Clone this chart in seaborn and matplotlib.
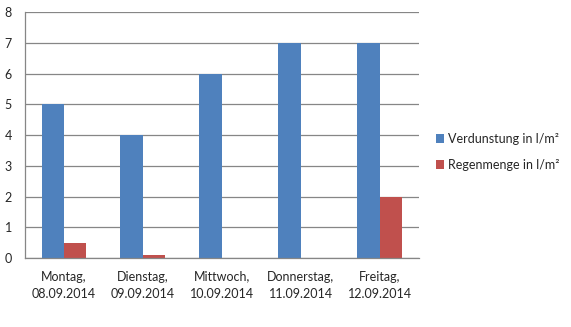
import matplotlib
matplotlib.use("Agg")
import matplotlib.pyplot as plt
import seaborn as sns
import pandas as pd
from matplotlib.patches import Patch

days = ["Montag,\n08.09.2014", "Dienstag,\n09.09.2014", "Mittwoch,\n10.09.2014",
        "Donnerstag,\n11.09.2014", "Freitag,\n12.09.2014"]
verdunstung = [5, 4, 6, 7, 7]
regenmenge = [0.5, 0.1, 0, 0, 2]
series = ["Verdunstung in l/m²", "Regenmenge in l/m²"]
colors = ["#4F81BD", "#C0504D"]

df = pd.DataFrame({
    "Tag": days * 2,
    "Wert": verdunstung + regenmenge,
    "Reihe": [series[0]] * len(days) + [series[1]] * len(days),
})

sns.set_style("white")
plt.rcParams["font.family"] = ["Lato", "DejaVu Sans"]

fig = plt.figure(figsize=(5.71, 3.27), dpi=100)
ax = fig.add_axes([0.043, 0.211, 0.691, 0.752])

sns.barplot(data=df, x="Tag", y="Wert", hue="Reihe", palette=colors,
            width=0.57, gap=0, saturation=1, errorbar=None, ax=ax,
            linewidth=0, legend=False)

ax.set_ylim(0, 8)
ax.set_xlim(-0.5, 4.5)
ax.set_yticks(range(0, 9))
ax.yaxis.grid(True, color="#868686", linewidth=0.9)
ax.set_axisbelow(True)
ax.set_xlabel("")
ax.set_ylabel("")

for s in ["top", "right"]:
    ax.spines[s].set_visible(False)
for s in ["left", "bottom"]:
    ax.spines[s].set_color("#868686")
    ax.spines[s].set_linewidth(0.9)

ax.tick_params(axis="y", length=3, color="#868686", labelsize=9, pad=6)
ax.tick_params(axis="x", which="major", length=0, labelsize=9, pad=9)
ax.set_xticks([i - 0.5 for i in range(len(days) + 1)], minor=True)
ax.tick_params(axis="x", which="minor", length=4, color="#868686")
for lbl in ax.get_xticklabels():
    lbl.set_linespacing(1.5)

handles = [Patch(facecolor=c, edgecolor="none") for c in colors]
fig.legend(handles, series, loc="center left", bbox_to_anchor=(0.743, 0.535),
           frameon=False, fontsize=9, handlelength=0.7, handleheight=0.7,
           handletextpad=0.3, labelspacing=1.1)

fig.savefig("out.png", dpi=100)
